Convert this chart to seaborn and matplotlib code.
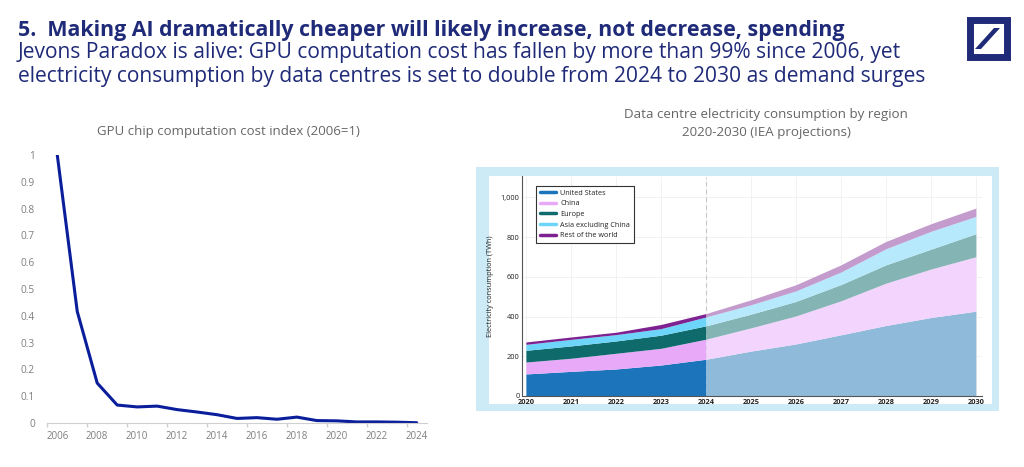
import numpy as np
import pandas as pd
import matplotlib
matplotlib.use("Agg")
import matplotlib.pyplot as plt
from matplotlib.patches import Rectangle, Polygon
from matplotlib.lines import Line2D
import seaborn as sns

# ---------------- data ----------------
gpu_years = list(range(2006, 2025))
gpu_cost = [1.0, 0.416, 0.149, 0.067, 0.060, 0.063, 0.050, 0.041, 0.031, 0.017,
            0.020, 0.014, 0.022, 0.009, 0.008, 0.004, 0.004, 0.003, 0.001]

dc_years = list(range(2020, 2031))
us = [111, 124, 136, 156, 185, 226, 262, 308, 355, 395, 427]
china = [60, 66, 79, 84, 101, 117, 141, 171, 213, 244, 274]
europe = [59, 62, 62, 66, 67, 69, 73, 82, 92, 100, 116]
asia_ex_china = [30, 33, 32, 33, 45, 47, 53, 63, 81, 90, 87]
rest_world = [12, 12, 12, 21, 17, 25, 31, 36, 37, 38, 42]
region_names = ["United States", "China", "Europe", "Asia excluding China", "Rest of the world"]

left_yticks = [0, 0.1, 0.2, 0.3, 0.4, 0.5, 0.6, 0.7, 0.8, 0.9, 1]
left_ytick_labels = ["0", "0.1", "0.2", "0.3", "0.4", "0.5", "0.6", "0.7", "0.8", "0.9", "1"]
left_xticks = list(range(2006, 2025, 2))
right_yticks = [0, 200, 400, 600, 800, 1000]
right_ytick_labels = ["0", "200", "400", "600", "800", "1,000"]

# ---------------- style ----------------
sns.set_theme(style="white")
plt.rcParams['font.family'] = ['Open Sans', 'DejaVu Sans']

navy = "#1F2A78"
grey_txt = "#666666"
grey_tick = "#7F7F7F"
line_blue = "#0A1E9C"
colors_dark = ["#1C75BB", "#E8A9F9", "#0F6A6B", "#6DD4FA", "#7D2290"]
colors_light = ["#8FBADA", "#F3D4FC", "#85B4B5", "#B5E9FB", "#C39BCC"]

fig = plt.figure(figsize=(10.24, 4.67), dpi=100)
W, H = 1024, 467

def fx(px):
    return px / W

def fy(py):
    return 1 - py / H

# background axes for decorative panel
bg = fig.add_axes([0, 0, 1, 1], zorder=-10)
bg.set_xlim(0, W)
bg.set_ylim(H, 0)
bg.axis("off")
bg.add_patch(Rectangle((476, 167), 523, 244, facecolor="#CDEBF7", edgecolor="none"))
bg.add_patch(Rectangle((489, 176), 503, 228, facecolor="white", edgecolor="none"))
# logo
bg.add_patch(Rectangle((969.5, 20), 37, 37, fill=False, edgecolor=navy, linewidth=5))
bg.add_patch(Polygon([(975, 49), (981, 49), (1000, 28), (994, 28)], closed=True,
                     facecolor=navy, edgecolor="none"))

# ---------------- titles ----------------
fig.text(fx(18), fy(36), "5.  Making AI dramatically cheaper will likely increase, not decrease, spending",
         color=navy, fontsize=15.4, fontweight="bold", va="baseline", ha="left")
fig.text(fx(18), fy(58), "Jevons Paradox is alive: GPU computation cost has fallen by more than 99% since 2006, yet",
         color=navy, fontsize=15.1, va="baseline", ha="left")
fig.text(fx(18), fy(82), "electricity consumption by data centres is set to double from 2024 to 2030 as demand surges",
         color=navy, fontsize=15.1, va="baseline", ha="left")

# ---------------- left chart ----------------
axL = fig.add_axes([fx(47.3), fy(423), fx(426.7 - 47.3), (423 - 155) / H])
axL.patch.set_alpha(0)
dfL = pd.DataFrame({"year": gpu_years, "cost": gpu_cost})
sns.lineplot(data=dfL, x="year", y="cost", ax=axL, color=line_blue, linewidth=2.2)
axL.set_xlim(2005.5, 2024.5)
axL.set_ylim(0, 1)
axL.set_xticks(left_xticks)
axL.set_xticklabels([str(y) for y in left_xticks], fontsize=7, color=grey_tick)
axL.set_xticks([2005.5 + 2 * k for k in range(10)], minor=True)
axL.set_yticks(left_yticks)
axL.set_yticklabels(left_ytick_labels, fontsize=7.3, color=grey_tick)
axL.tick_params(axis="x", which="major", length=0, pad=6)
axL.tick_params(axis="x", which="minor", length=3, color="#D0D0D0", bottom=True)
axL.tick_params(axis="y", length=0, pad=9)
for s in ["top", "right", "left"]:
    axL.spines[s].set_visible(False)
axL.spines["bottom"].set_color("#D0D0D0")
axL.spines["bottom"].set_linewidth(0.8)
axL.set_xlabel("")
axL.set_ylabel("")
fig.text(fx(228), fy(135), "GPU chip computation cost index (2006=1)", ha="center", va="baseline",
         fontsize=9.5, color=grey_txt)

# ---------------- right chart ----------------
fig.text(fx(766), fy(118), "Data centre electricity consumption by region", ha="center", va="baseline",
         fontsize=9.6, color=grey_txt)
fig.text(fx(766), fy(136), "2020-2030 (IEA projections)", ha="center", va="baseline",
         fontsize=9.6, color=grey_txt)

axR = fig.add_axes([fx(522.3), fy(396), fx(981.7 - 522.3), (396 - 176.5) / H])
axR.patch.set_alpha(0)
series = [us, china, europe, asia_ex_china, rest_world]
yrs = np.array(dc_years)
cum = np.cumsum(np.array(series, dtype=float), axis=0)
hist = yrs <= 2024
proj = yrs >= 2024
for i in range(len(series)):
    lower = cum[i - 1] if i > 0 else np.zeros(len(yrs))
    upper = cum[i]
    axR.fill_between(yrs[hist], lower[hist], upper[hist], color=colors_dark[i], linewidth=0, zorder=2)
    axR.fill_between(yrs[proj], lower[proj], upper[proj], color=colors_light[i], linewidth=0, zorder=2)
axR.axvline(2024, color="#C8C8C8", linestyle=(0, (4, 3)), linewidth=0.8, zorder=1)
axR.set_xlim(2019.92, 2030.13)
axR.set_ylim(0, 1105)
axR.set_xticks(dc_years)
axR.set_xticklabels([str(y) for y in dc_years], fontsize=5.3, color="#222222", fontweight="bold")
axR.set_yticks(right_yticks)
axR.set_yticklabels(right_ytick_labels, fontsize=5.3, color="#222222")
axR.tick_params(axis="both", length=0, pad=2)
axR.grid(True, color="#F0F0F0", linewidth=0.6, zorder=0)
axR.set_axisbelow(True)
for s in ["top", "right"]:
    axR.spines[s].set_visible(False)
for s in ["left", "bottom"]:
    axR.spines[s].set_color("#555555")
    axR.spines[s].set_linewidth(0.8)
axR.set_ylabel("Electricity consumption (TWh)", fontsize=5.3, color="#222222", labelpad=5)
handles = [Line2D([0], [0], color=c, linewidth=2.5) for c in colors_dark]
leg = axR.legend(handles, region_names, loc="upper left", bbox_to_anchor=(0.022, 0.975), fontsize=5.2,
                 frameon=True, fancybox=False, edgecolor="#333333", framealpha=1,
                 handlelength=2.2, handletextpad=0.6, borderpad=0.55, labelspacing=0.5)
leg.get_frame().set_linewidth(0.8)
for t in leg.get_texts():
    t.set_color("#222222")

fig.savefig("out.png", dpi=100)
